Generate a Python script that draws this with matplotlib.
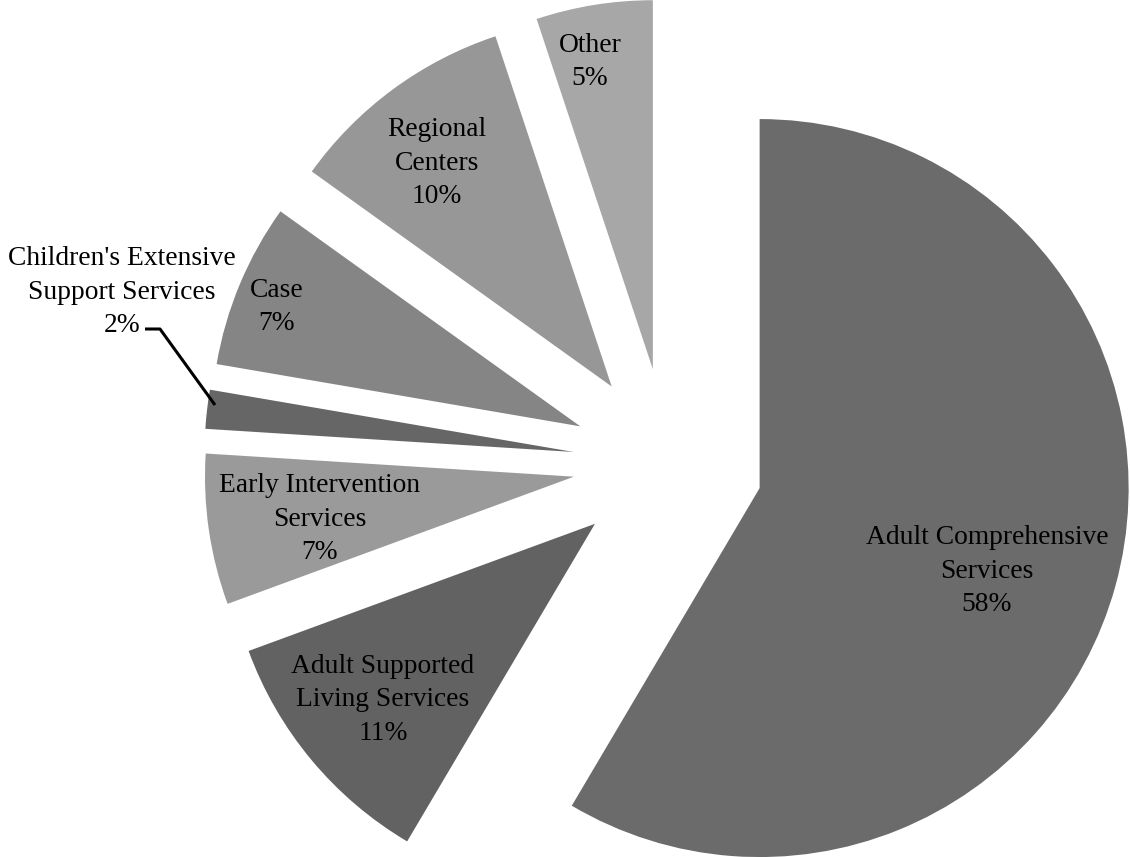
import matplotlib
matplotlib.use("Agg")
import matplotlib.pyplot as plt

categories = ["Adult Comprehensive\nServices", "Adult Supported\nLiving Services",
              "Early Intervention\nServices", "Children's Extensive\nSupport Services",
              "Case", "Regional\nCenters", "Other"]
shares = [58.5, 10.9, 6.6, 1.7, 7.2, 10.0, 5.1]
colors = ["#6b6b6b", "#626262", "#9a9a9a", "#666666", "#858585", "#979797", "#a7a7a7"]

W, H = 1130, 857
fig = plt.figure(figsize=(W / 100, H / 100), dpi=100)
ax = fig.add_axes([0, 0, 1, 1])

R = 369
center = (668, H - 463)
ax.pie(shares, explode=[95] * len(shares), colors=colors, startangle=90,
       counterclock=False, radius=R, center=center,
       wedgeprops=dict(linewidth=0), frame=True)
ax.set_xlim(0, W)
ax.set_ylim(0, H)
ax.set_aspect("equal")
ax.axis("off")

font = dict(family="Liberation Serif", fontsize=19.8, ha="center", va="center",
            linespacing=1.45, color="black")
# label anchor positions (pixel coords from top)
label_pos = [(987, 571), (383, 700), (320, 519), (122, 292), (277, 307), (437, 163), (590, 62)]
for name, val, (x, y) in zip(categories, shares, label_pos):
    ax.text(x, H - y, f"{name}\n{round(val):d}%", **font)

# leader line for small slice
ax.plot([145, 160, 215], [H - 329, H - 329, H - 405], color="black", lw=2.2,
        solid_capstyle="butt")

fig.savefig("out.png", dpi=100)
